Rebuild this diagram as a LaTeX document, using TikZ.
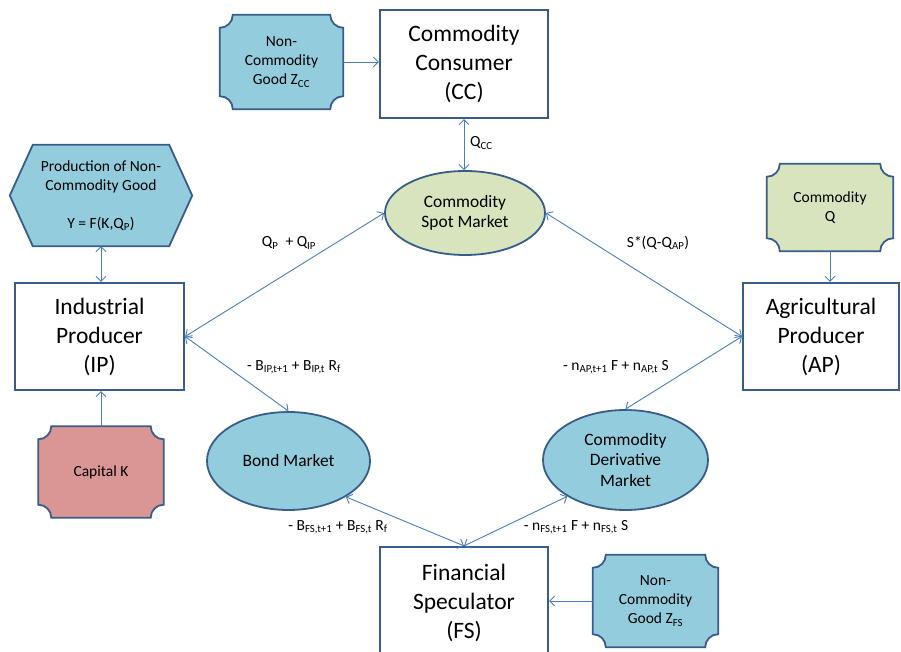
\documentclass[tikz,border=0pt]{standalone}
\usepackage{fontspec}
\setmainfont{Carlito}
\usetikzlibrary{shapes.geometric,arrows.meta,backgrounds,calc}
\definecolor{bord}{HTML}{385D8A}
\definecolor{lblue}{HTML}{93CDDD}
\definecolor{lgreen}{HTML}{D7E4BD}
\definecolor{lred}{HTML}{D99694}
\definecolor{cline}{HTML}{4A7EBB}
\newcommand{\plqr}{13pt}
\newcommand{\plaquebg}[2]{\path[draw=bord,line width=1.8pt,fill=#2] let \p1=(#1.south west), \p2=(#1.north east) in (\x1+\plqr,\y2) -- (\x2-\plqr,\y2) arc[start angle=180,end angle=270,radius=\plqr] -- (\x2,\y1+\plqr) arc[start angle=90,end angle=180,radius=\plqr] -- (\x1+\plqr,\y1) arc[start angle=0,end angle=90,radius=\plqr] -- (\x1,\y2-\plqr) arc[start angle=270,end angle=360,radius=\plqr] -- cycle;}
\tikzset{
  bigbox/.style={draw=bord, line width=2.2pt, fill=white, align=center, font=\fontsize{23.5}{29}\selectfont, inner sep=0pt},
  smallt/.style={align=center, font=\fontsize{15.5}{19}\selectfont, inner sep=0pt},
  ell/.style={ellipse, draw=bord, line width=1.8pt, align=center, font=\fontsize{17.4}{20.5}\selectfont, inner sep=0pt},
  lbl/.style={font=\fontsize{15.5}{18}\selectfont, inner sep=0pt},
  arr/.style={draw=cline, line width=0.9pt, -{Straight Barb[length=5pt,width=10pt]}},
  darr/.style={draw=cline, line width=0.9pt, {Straight Barb[length=5pt,width=10pt]}-{Straight Barb[length=5pt,width=10pt]}}
}
\begin{document}
\begin{tikzpicture}[x=1pt,y=1pt]
\useasboundingbox (0,0) rectangle (901,652);
\clip (0,0) rectangle (901,652);
% main boxes
\node[bigbox, minimum width=168pt, minimum height=108pt] (cc) at (464,588) {Commodity\\Consumer\\(CC)};
\node[bigbox, minimum width=169pt, minimum height=107pt] (ip) at (99.5,315.5) {Industrial\\Producer\\(IP)};
\node[bigbox, minimum width=156pt, minimum height=107pt] (ap) at (821,315.5) {Agricultural\\Producer\\(AP)};
\node[bigbox, minimum width=168pt, minimum height=112pt] (fs) at (464,49) {Financial\\Speculator\\(FS)};
% plaques and hexagon
\node[smallt, minimum width=123pt, minimum height=94pt] (zcc) at (281.5,590) {Non-\\Commodity\\Good Z\textsubscript{CC}};
\node[smallt, minimum width=182pt, minimum height=101pt] (hex) at (101,456.5) {Production of Non-\\Commodity Good\\[19pt]Y = F(K,Q\textsubscript{P})};
\node[smallt, minimum width=125pt, minimum height=91pt] (capk) at (101,180) {Capital K};
\node[smallt, minimum width=126pt, minimum height=87pt] (cq) at (830,444.5) {Commodity\\Q};
\node[smallt, minimum width=125pt, minimum height=92pt] (zfs) at (655.5,51) {Non-\\Commodity\\Good Z\textsubscript{FS}};
\begin{scope}[on background layer]
\plaquebg{zcc}{lblue}
\plaquebg{capk}{lred}
\plaquebg{cq}{lgreen}
\plaquebg{zfs}{lblue}
\path[draw=bord,line width=1.8pt,fill=lblue] let \p1=(hex.south west), \p2=(hex.north east) in (\x1,{(\y1+\y2)/2}) -- (\x1+23pt,\y2) -- (\x2-23pt,\y2) -- (\x2,{(\y1+\y2)/2}) -- (\x2-23pt,\y1) -- (\x1+23pt,\y1) -- cycle;
\end{scope}
% markets
\node[ell, fill=lgreen, minimum width=160pt, minimum height=84pt] (spot) at (465,439) {Commodity\\Spot Market};
\node[ell, fill=lblue, minimum width=163pt, minimum height=98pt] (bond) at (288.5,191) {Bond Market};
\node[ell, fill=lblue, minimum width=165pt, minimum height=100pt] (deriv) at (625.5,192) {Commodity\\Derivative\\Market};
% connectors
\draw[arr] (zcc.east) -- (zcc.east -| cc.west);
\draw[darr] (cc.south) -- (cc.south |- spot.north);
\draw[darr] (hex.south) -- (hex.south |- ip.north);
\draw[arr] (capk.north) -- (capk.north |- ip.south);
\draw[arr] (cq.south) -- (cq.south |- ap.north);
\draw[darr] (ip.east) -- (spot.west);
\draw[darr] (spot.east) -- (ap.west);
\draw[darr] (ip.east) -- (bond.north);
\draw[darr] (ap.west) -- (deriv.north);
\draw[darr] (bond.-32) -- (fs.north);
\draw[darr] (deriv.-148) -- (fs.north);
\draw[arr] (zfs.west) -- (zfs.west -| fs.east);
% labels
\node[lbl, anchor=west] (lqcc) at (470,509) {Q\textsubscript{CC}};
\node[lbl] (lqp) at (289,409) {Q\textsubscript{P}\ \ + Q\textsubscript{IP}};
\node[lbl] (lsq) at (658,409) {S*(Q-Q\textsubscript{AP})};
\node[lbl] (lbip) at (294,285) {- B\textsubscript{IP,t+1} + B\textsubscript{IP,t} R\textsubscript{f}};
\node[lbl] (lnap) at (616,285) {- n\textsubscript{AP,t+1} F + n\textsubscript{AP,t} S};
\node[lbl] (lbfs) at (338,125) {- B\textsubscript{FS,t+1} + B\textsubscript{FS,t} R\textsubscript{f}};
\node[lbl] (lnfs) at (576,125) {- n\textsubscript{FS,t+1} F + n\textsubscript{FS,t} S};
\end{tikzpicture}
\end{document}
